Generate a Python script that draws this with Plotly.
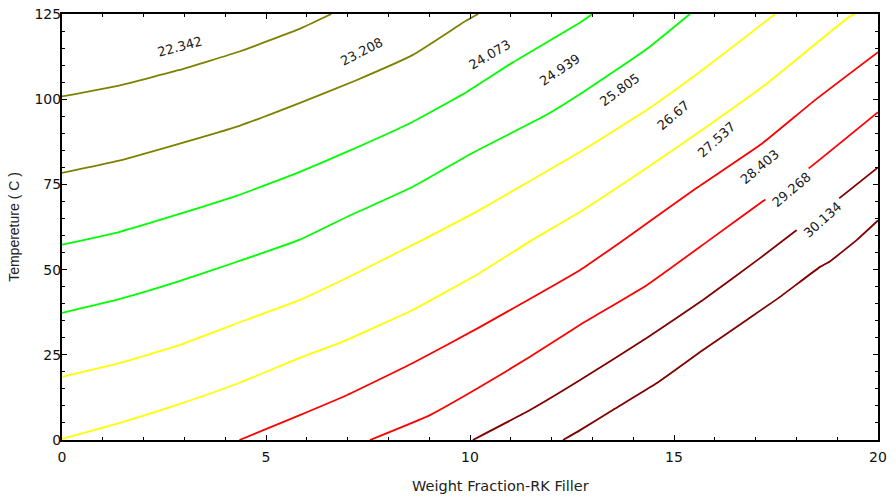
import plotly.graph_objects as go

# ---- data (contour lines of the response surface) ----
levels = ["22.342", "23.208", "24.073", "24.939", "25.805",
          "26.67", "27.537", "28.403", "29.268", "30.134"]

line_22342_x = [0, 1.4, 2.85, 4.35, 5.85, 6.6]
line_22342_y = [100.8, 104.0, 108.5, 114.0, 120.8, 125]

line_23208_x = [0, 1.4, 2.8, 4.35, 5.85, 7.2, 8.6, 9.9, 10.2]
line_23208_y = [78.4, 82.0, 86.7, 92.2, 99.0, 105.5, 113.0, 123.0, 125]

line_24073_x = [0, 1.42, 2.82, 4.29, 5.83, 6.99, 8.6, 9.93, 11.05, 12.7, 13.0]
line_24073_y = [57.3, 61.1, 66.1, 71.7, 78.7, 84.6, 93.4, 102.2, 110.8, 122.5, 125]

line_24939_x = [0, 1.42, 2.82, 4.29, 5.83, 6.99, 8.6, 10.07, 11.89, 12.7, 14.34, 15.39]
line_24939_y = [37.3, 41.4, 46.4, 52.3, 58.8, 65.5, 74.3, 84.3, 95.5, 101.5, 114.8, 125]

line_25805_x = [0, 1.42, 2.82, 4.19, 5.83, 6.99, 8.85, 10.25, 12.7, 14.34, 15.81, 17.48]
line_25805_y = [18.5, 22.6, 27.6, 33.8, 41.1, 47.6, 58.8, 67.6, 84.6, 96.9, 109.6, 125]

line_2667_x = [0, 1.42, 2.82, 4.29, 5.83, 6.99, 8.6, 10.25, 11.54, 12.7, 14.34, 15.81, 17.18, 19.31, 19.44]
line_2667_y = [0.3, 5.0, 10.3, 16.5, 24.1, 29.4, 38.2, 49.1, 58.8, 67.0, 79.9, 92.0, 103.7, 124.3, 125]

line_27537_x = [4.35, 5.83, 6.99, 8.6, 10.25, 12.7, 13.92, 15.56, 17.16, 18.41, 20]
line_27537_y = [0, 7.3, 13.2, 22.6, 33.2, 49.9, 60.0, 74.0, 87.0, 99.3, 113.8]

line_28403_x = [7.55, 9.02, 10.25, 11.47, 12.7, 14.34, 15.88, 17.16, 18.26, 20]
line_28403_y = [0, 7.3, 15.6, 24.4, 33.8, 45.5, 58.8, 69.9, 79.3, 96.2]

line_29268_x = [10.07, 11.47, 12.7, 14.34, 15.71, 17.1, 18.5, 18.95, 20]
line_29268_y = [0, 8.8, 17.6, 30.0, 41.1, 53.3, 66.1, 70.0, 80.0]

line_30134_x = [12.28, 12.7, 13.5, 14.58, 15.71, 16.79, 17.6, 18.58, 18.82, 19.49, 20]
line_30134_y = [0, 2.9, 8.8, 16.7, 26.4, 35.3, 42.0, 50.8, 52.4, 58.8, 64.4]

lines_x = [line_22342_x, line_23208_x, line_24073_x, line_24939_x, line_25805_x,
           line_2667_x, line_27537_x, line_28403_x, line_29268_x, line_30134_x]
lines_y = [line_22342_y, line_23208_y, line_24073_y, line_24939_y, line_25805_y,
           line_2667_y, line_27537_y, line_28403_y, line_29268_y, line_30134_y]

# ---- styles / label placement ----
line_colors = ["#808000", "#808000", "#00ff00", "#00ff00", "#ffff00",
               "#ffff00", "#ff0000", "#ff0000", "#800000", "#800000"]
label_pos_x = [2.89, 7.35, 10.49, 12.21, 13.68, 14.98, 16.05, 17.11, 17.89, 18.65]
label_pos_y = [115.5, 113.9, 113.1, 108.7, 102.8, 95.1, 88.1, 80.2, 73.4, 64.6]
label_angle = [-15, -27, -30, -34, -36, -40, -42, -40, -40, -42]

fig = go.Figure()
for xs, ys, col, name in zip(lines_x, lines_y, line_colors, levels):
    fig.add_trace(go.Scatter(x=xs, y=ys, mode="lines", name=name,
                             line=dict(color=col, width=1.8, shape="spline", smoothing=0.4),
                             showlegend=False, hoverinfo="skip"))

for lx, ly, ang, txt in zip(label_pos_x, label_pos_y, label_angle, levels):
    fig.add_annotation(x=lx, y=ly, text=txt, showarrow=False, textangle=ang,
                       font=dict(family="DejaVu Sans", size=13, color="#1a1a1a"),
                       bgcolor="white", borderpad=3)

axis_common = dict(showline=True, linecolor="black", linewidth=2, mirror="allticks",
                   ticks="inside", tickcolor="black", showgrid=False, zeroline=False,
                   automargin=False,
                   tickfont=dict(family="DejaVu Sans", size=14, color="#111111"))

fig.update_xaxes(range=[0, 20], dtick=5, tick0=0, ticklen=5, tickwidth=1.2,
                 minor=dict(dtick=1, ticks="inside", ticklen=3, tickcolor="black"),
                 ticklabelstandoff=3, **axis_common)
fig.update_yaxes(range=[0, 125], dtick=25, tick0=0, ticklen=5, tickwidth=1.2,
                 minor=dict(dtick=5, ticks="inside", ticklen=3, tickcolor="black"),
                 ticklabelstandoff=-4,
                 title=dict(text="Tempereture ( C )", standoff=12,
                            font=dict(family="Liberation Sans", size=14, color="#222222")),
                 **axis_common)

fig.add_annotation(xref="paper", yref="paper", x=0.537, y=-0.084, yanchor="top",
                   text="Weight Fraction-RK Filler", showarrow=False,
                   font=dict(family="DejaVu Sans", size=14.5, color="#222222"))

fig.update_layout(width=896, height=497, margin=dict(l=62, r=18, t=14, b=57),
                  plot_bgcolor="white", paper_bgcolor="white")

fig.write_html("out.html", config={"displayModeBar": False},
               post_script="document.body.style.margin='0';document.body.style.overflow='hidden';")
